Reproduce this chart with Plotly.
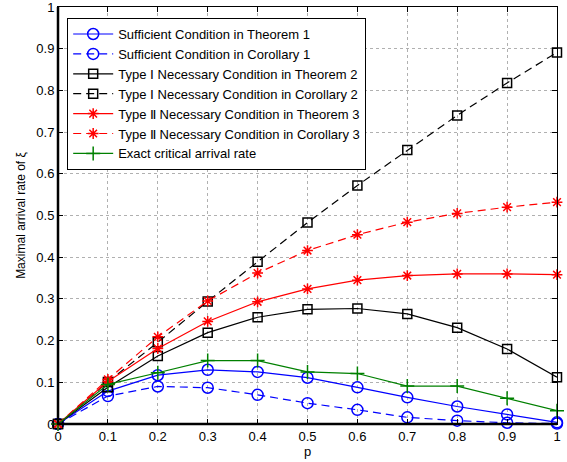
import plotly.graph_objects as go

p = [0, 0.1, 0.2, 0.3, 0.4, 0.5, 0.6, 0.7, 0.8, 0.9, 1.0]

suff_thm1 = [0, 0.079, 0.117, 0.130, 0.125, 0.111, 0.088, 0.064, 0.042, 0.023, 0.004]
suff_cor1 = [0, 0.067, 0.090, 0.087, 0.070, 0.050, 0.034, 0.016, 0.008, 0.003, 0.001]
type1_thm2 = [0, 0.088, 0.163, 0.219, 0.256, 0.275, 0.277, 0.264, 0.231, 0.180, 0.112]
type1_cor2 = [0, 0.101, 0.196, 0.294, 0.389, 0.483, 0.572, 0.657, 0.740, 0.818, 0.891]
type2_thm3 = [0, 0.102, 0.181, 0.246, 0.293, 0.324, 0.345, 0.356, 0.360, 0.360, 0.358]
type2_cor3 = [0, 0.107, 0.209, 0.295, 0.362, 0.416, 0.454, 0.484, 0.505, 0.520, 0.532]
exact_rate = [0, 0.095, 0.123, 0.152, 0.152, 0.125, 0.121, 0.091, 0.091, 0.062, 0.032]

tick_vals = [0, 0.1, 0.2, 0.3, 0.4, 0.5, 0.6, 0.7, 0.8, 0.9, 1]
tick_text = ["0", "0.1", "0.2", "0.3", "0.4", "0.5", "0.6", "0.7", "0.8", "0.9", "1"]

names = [
    "Sufficient Condition in Theorem 1",
    "Sufficient Condition in Corollary 1",
    "Type \u2160 Necessary Condition in Theorem 2",
    "Type \u2160 Necessary Condition in Corollary 2",
    "Type \u2161 Necessary Condition in Theorem 3",
    "Type \u2161 Necessary Condition in Corollary 3",
    "Exact critical arrival rate",
]
series = [suff_thm1, suff_cor1, type1_thm2, type1_cor2, type2_thm3, type2_cor3, exact_rate]
colors = ["#0000ff", "#0000ff", "#000000", "#000000", "#ff0000", "#ff0000", "#008000"]
dashes = ["solid", "8px,5px", "solid", "8px,5px", "solid", "8px,5px", "solid"]
symbols = ["circle-open", "circle-open", "square-open", "square-open",
           "asterisk-open", "asterisk-open", "cross-thin-open"]
sizes = [11, 11, 9, 9, 9, 9, 10]

fig = go.Figure()
for name, y, c, d, s, sz in zip(names, series, colors, dashes, symbols, sizes):
    fig.add_trace(go.Scatter(
        x=p, y=y, name=name, mode="lines+markers", cliponaxis=False,
        line=dict(color=c, width=1.2, dash=d),
        marker=dict(symbol=s, size=sz, color=c, line=dict(color=c, width=1.5)),
    ))

font_main = "Liberation Sans, Arial"
axis_common = dict(
    showgrid=True, gridcolor="#b0b0b0", griddash="dot", gridwidth=1,
    showline=True, linecolor="black", linewidth=1, mirror="ticks",
    ticks="inside", ticklen=5, tickcolor="black", zeroline=False,
    tickfont=dict(family=font_main, size=13, color="black"),
    tickvals=tick_vals, ticktext=tick_text, automargin=False, range=[0, 1],
    ticklabeloverflow="allow",
)
fig.update_xaxes(title=dict(text="p", standoff=2,
                 font=dict(family=font_main, size=13, color="black")), **axis_common)
fig.update_yaxes(title=dict(text="Maximal arrival rate of \u03be", standoff=8,
                 font=dict(family=font_main, size=12, color="black")), **axis_common)

fig.add_shape(type="line", xref="paper", yref="paper", x0=0, x1=0, y0=0, y1=1,
              line=dict(color="black", width=2.5))
fig.add_shape(type="line", xref="paper", yref="paper", x0=0, x1=1, y0=0, y1=0,
              line=dict(color="black", width=2.5))

fig.update_layout(
    width=567, height=462,
    margin=dict(l=58, r=10, t=7, b=38),
    paper_bgcolor="white", plot_bgcolor="white",
    font=dict(family=font_main, size=12, color="black"),
    legend=dict(x=0.018, y=0.974, xanchor="left", yanchor="top",
                bgcolor="white", bordercolor="black", borderwidth=1.2,
                font=dict(family=font_main, size=13, color="black"),
                itemwidth=40, tracegroupgap=0),
    showlegend=True,
)

fig.write_html("out.html")
